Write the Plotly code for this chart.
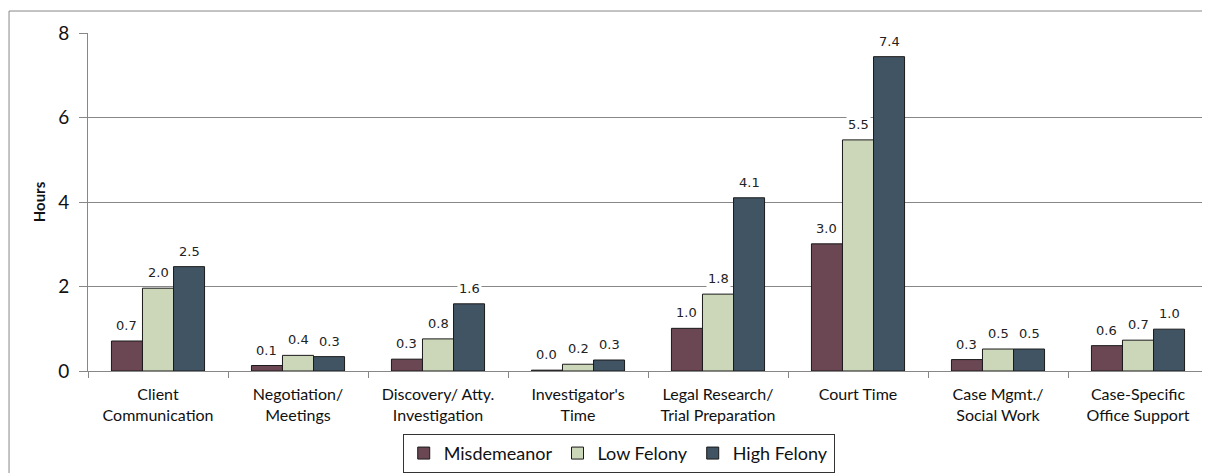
import plotly.graph_objects as go

# Hours per case by activity
categories = [
    "Client<br>Communication",
    "Negotiation/<br>Meetings",
    "Discovery/ Atty.<br>Investigation",
    "Investigator's<br>Time",
    "Legal Research/<br>Trial Preparation",
    "Court Time",
    "Case Mgmt./<br>Social Work",
    "Case-Specific<br>Office Support",
]
misdemeanor = [0.71, 0.13, 0.28, 0.02, 1.01, 3.01, 0.27, 0.60]
low_felony = [1.96, 0.37, 0.76, 0.16, 1.82, 5.47, 0.52, 0.73]
high_felony = [2.47, 0.34, 1.59, 0.26, 4.10, 7.44, 0.52, 0.99]
y_ticks = [0, 2, 4, 6, 8]

SERIES = [
    ("Misdemeanor", misdemeanor, "#6b4754"),
    ("Low Felony", low_felony, "#ccd6b9"),
    ("High Felony", high_felony, "#405464"),
]

GRID = "#878787"
FONT = "Lato"

fig = go.Figure()
for name, vals, color in SERIES:
    fig.add_trace(go.Bar(
        x=categories, y=vals, name=name,
        marker=dict(color=color, line=dict(color="#1a1a1a", width=1)),
    ))

# value labels with white background (gridlines break behind them)
bar_px = 1120 / len(categories) * (1 - 0.335) / 3
annotations = []
for i, (name, vals, color) in enumerate(SERIES):
    for cat, v in zip(categories, vals):
        annotations.append(dict(
            x=cat, y=v, text=f"{v:.1f}", showarrow=False,
            xshift=(i - 1) * bar_px, yanchor="bottom", yshift=6,
            bgcolor="white", borderpad=1,
            font=dict(family="DejaVu Sans", size=13, color="#222"),
        ))

# the page body adds an 8px offset, so the figure is 8px smaller
fig.update_layout(
    width=1202, height=465,
    margin=dict(l=80, r=2, t=25, b=102, autoexpand=False),
    paper_bgcolor="white", plot_bgcolor="white",
    barmode="group", bargap=0.335, bargroupgap=0,
    annotations=annotations,
    showlegend=True,
    legend=dict(
        orientation="h", x=0.281, y=-0.186, xanchor="left", yanchor="top",
        bordercolor="#333", borderwidth=1,
        font=dict(family=FONT, size=18, color="#111"),
        itemwidth=30, traceorder="normal",
    ),
    shapes=[dict(
        type="rect", xref="paper", yref="paper",
        x0=-0.0705, x1=1.2, y0=-0.6, y1=1.065,
        line=dict(color=GRID, width=1), layer="below",
    )],
)
fig.update_xaxes(
    automargin=False,
    showgrid=False, showline=True, linecolor=GRID, linewidth=1,
    ticks="outside", tickson="boundaries", ticklen=6, tickcolor=GRID,
    ticklabelstandoff=9,
    tickfont=dict(family=FONT, size=16, color="#111"),
)
fig.update_yaxes(
    automargin=False,
    range=[0, 8], tickvals=y_ticks, showgrid=True, gridcolor=GRID, gridwidth=1,
    showline=True, linecolor=GRID, linewidth=1, zeroline=False,
    ticks="outside", ticklen=8, tickcolor=GRID, ticklabelstandoff=6,
    tickfont=dict(family=FONT, size=19, color="#111"),
    title=dict(text="<b>Hours</b>", standoff=8,
               font=dict(family=FONT, size=15, color="#111")),
)

fig.write_html("out.html")
